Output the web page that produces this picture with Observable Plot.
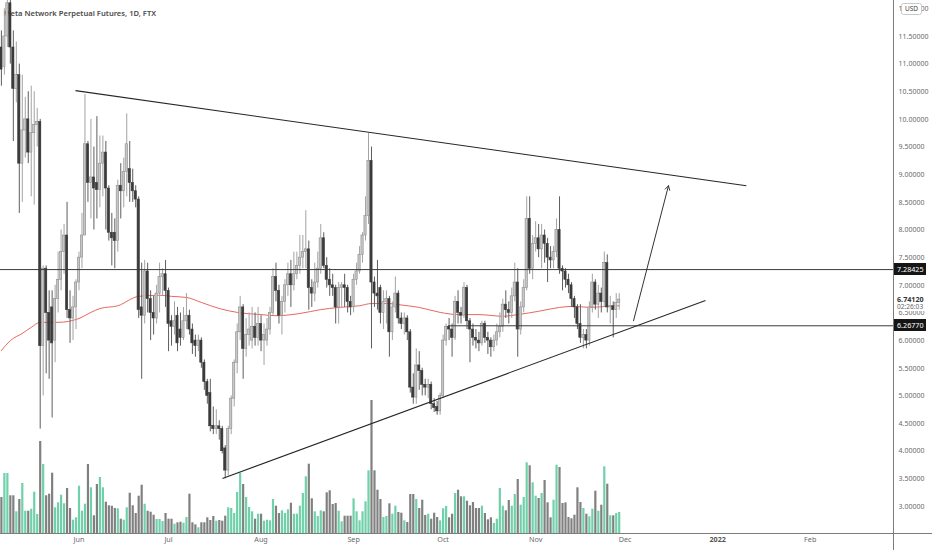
<!DOCTYPE html>
<html>
<head>
<meta charset="utf-8">
<script src="https://cdn.jsdelivr.net/npm/d3@7"></script>
<script src="https://cdn.jsdelivr.net/npm/@observablehq/plot@0.6"></script>
<style>
  body { margin: 0; background: #fff; overflow: hidden; }
  #chart { position: relative; width: 932px; height: 550px; overflow: hidden; font-family: "Noto Sans", sans-serif; }
  #chart svg { position: absolute; left: 0; top: 0; }
  .tag { position: absolute; font-size: 7.2px; white-space: nowrap; }
</style>
</head>
<body>
<div id="chart"></div>
<script>
// daily candles, first bar 2021-05-06
const firstBar = "2021-05-06";
const opens = [11.3,10.95,11.5,12.1,11.3,10.55,10.8,9.2,9.8,10.0,9.4,9.75,9.9,9.95,5.9,7.3,6.5,6.6,6.0,6.75,7.1,7.6,7.9,6.55,6.4,6.6,7.05,7.5,7.9,9.55,
  8.85,8.95,8.85,8.72,9.2,9.4,8.75,7.95,7.95,7.8,8.8,8.7,9.05,9.1,8.85,8.7,8.55,6.6,6.45,7.25,6.75,6.5,6.4,6.85,7.15,7.2,6.9,6.35,6.25,6.45,
  6.2,6.05,6.35,6.45,6.2,6.0,5.9,6.0,5.6,5.25,5.05,4.46,4.4,4.45,4.4,4.05,3.65,4.4,4.95,5.6,6.15,6.6,5.85,6.1,6.0,6.25,6.05,6.3,6.0,6.0,
  6.2,6.5,7.15,6.9,6.45,6.7,7.0,7.2,7.0,7.2,7.35,7.5,7.6,7.65,6.95,6.85,7.05,7.3,7.85,7.35,7.1,7.0,6.95,6.6,6.95,7.0,6.95,6.7,6.6,7.1,
  7.25,7.55,7.9,8.25,9.25,7.05,6.85,6.95,6.5,6.7,6.75,6.15,6.6,6.85,6.4,6.3,6.4,6.15,5.15,4.97,5.55,5.45,5.2,5.15,5.2,4.85,4.8,4.72,5.0,6.0,
  6.25,6.2,6.05,6.7,6.5,6.45,6.95,6.35,6.2,6.05,6.0,5.95,6.3,6.05,6.0,5.88,6.0,6.15,6.25,6.65,6.55,6.5,6.8,7.05,6.2,6.6,6.95,8.2,7.3,7.75,
  7.85,7.65,7.9,7.75,7.5,7.45,7.6,8.0,7.3,7.25,7.1,7.0,6.75,6.6,6.3,6.05,6.1,6.0,6.6,7.05,6.65,6.85,6.7,7.4,6.6,6.62,6.55,6.68];
const highs = [11.6,12.0,12.4,12.4,11.6,11.4,11.0,10.8,10.4,10.5,10.6,10.5,10.2,10.0,7.35,7.35,6.9,6.9,7.0,7.6,8.0,8.1,8.5,6.9,6.8,7.1,7.6,8.3,10.45,9.6,
  10.0,9.5,10.05,9.7,9.7,9.6,8.8,8.3,8.2,8.9,9.2,9.3,10.1,9.6,9.1,8.8,8.6,7.4,7.45,7.4,6.9,6.8,7.0,7.4,7.3,7.45,6.95,6.45,6.7,6.6,
  6.5,6.6,6.85,6.55,6.3,6.1,6.1,6.05,5.65,5.3,5.3,4.8,4.75,4.55,4.45,4.1,4.45,5.0,5.65,6.3,6.8,6.65,6.4,6.5,6.6,6.5,6.6,6.45,6.3,6.4,
  6.6,7.3,7.4,7.0,6.8,7.1,7.4,7.45,7.6,7.6,7.9,7.9,8.35,7.8,7.1,7.4,7.6,8.1,7.95,7.5,7.3,7.2,7.0,7.05,7.05,7.2,7.0,6.8,7.2,7.4,
  7.7,7.95,8.6,9.75,9.5,7.15,7.45,7.0,6.9,6.9,6.8,6.7,7.15,6.9,6.5,6.5,6.45,6.2,5.4,5.85,5.8,5.5,5.3,5.3,5.25,4.95,4.9,5.05,6.1,6.3,
  6.4,6.3,6.8,6.9,6.6,7.05,7.0,6.4,6.3,6.2,6.15,6.35,6.35,6.15,6.05,6.1,6.3,6.5,6.75,6.9,6.7,6.95,7.4,7.3,6.7,7.1,8.6,8.6,7.9,8.15,
  8.1,8.1,8.0,7.85,7.7,7.7,8.2,8.6,7.35,7.3,7.2,7.05,6.8,6.65,6.65,6.2,6.2,6.7,7.2,7.1,7.0,6.95,7.6,7.55,6.8,6.7,6.85,6.85];
const lows = [10.6,10.8,11.3,11.0,9.6,10.3,8.3,8.5,9.3,9.2,8.6,8.45,9.5,4.4,5.0,5.4,5.3,4.6,5.6,6.5,6.9,7.2,6.4,5.95,6.0,6.2,6.9,7.3,7.9,8.5,
  8.2,8.0,8.2,8.4,8.6,8.0,7.8,7.35,7.3,7.6,8.2,8.4,8.6,8.5,8.5,8.4,6.4,5.3,6.3,6.5,6.0,6.1,6.3,6.5,6.8,6.6,5.8,5.9,6.1,5.8,
  5.9,6.0,6.2,6.1,5.75,5.7,5.8,5.5,5.1,4.85,4.35,4.3,4.3,4.2,3.95,3.5,3.55,4.3,4.8,5.4,6.0,5.3,5.7,5.9,5.85,5.9,5.9,5.8,5.55,5.9,
  6.1,6.45,6.7,6.3,6.1,6.5,6.8,6.6,6.9,7.1,7.2,7.3,7.3,6.55,6.6,6.7,6.95,7.2,7.3,6.95,6.8,6.8,6.3,6.3,6.6,6.6,6.5,6.45,6.5,7.0,
  7.2,7.4,7.8,8.1,5.85,6.6,6.55,6.3,6.2,6.3,5.7,6.0,6.5,6.3,6.2,6.1,6.0,5.05,4.85,4.85,5.1,5.0,5.0,4.95,4.75,4.7,4.65,4.65,4.95,5.9,
  6.0,5.7,6.0,6.3,6.3,6.4,6.2,5.6,5.9,5.85,5.8,5.9,5.95,5.75,5.7,5.8,5.9,6.05,6.15,6.4,6.3,6.4,6.7,5.7,6.1,6.5,6.9,7.2,7.1,7.6,
  7.5,7.3,7.4,7.05,7.3,7.3,7.5,7.2,6.9,6.95,6.85,6.6,6.4,6.2,5.95,5.85,5.85,5.9,6.5,6.55,6.4,6.5,6.6,6.5,6.3,6.05,6.4,6.55];
const closes = [10.9,11.5,12.1,11.3,10.55,10.8,9.2,9.8,10.0,9.4,9.75,9.9,9.95,5.9,7.3,6.5,6.0,5.95,6.75,7.1,7.6,7.9,6.55,6.4,6.6,7.05,7.5,7.9,9.55,8.85,
  8.95,8.75,8.72,9.2,9.4,8.75,7.95,7.85,7.8,8.8,8.7,9.05,9.55,8.85,8.7,8.55,6.55,6.45,7.25,6.75,6.5,6.4,6.85,7.15,7.2,6.9,6.3,6.25,6.35,5.95,
  6.05,6.35,6.45,6.2,5.95,5.9,6.0,5.6,5.25,5.0,4.45,4.4,4.45,4.4,4.0,3.65,4.4,4.95,5.6,6.15,6.6,5.85,6.1,6.2,6.25,6.05,6.3,6.0,6.1,6.2,
  6.5,7.15,6.9,6.45,6.7,7.0,7.2,7.0,7.2,7.35,7.5,7.6,7.65,6.95,6.85,7.05,7.3,7.85,7.35,7.1,7.0,6.95,6.6,6.95,7.0,6.95,6.7,6.6,7.1,7.25,
  7.55,7.9,8.25,9.25,7.05,6.85,6.8,6.5,6.7,6.75,6.15,6.6,6.85,6.4,6.3,6.4,6.15,5.15,4.97,5.55,5.45,5.2,5.15,5.2,4.85,4.78,4.72,5.0,6.0,6.25,
  6.2,6.05,6.7,6.5,6.45,6.95,6.35,6.2,6.05,6.0,5.95,6.3,6.05,6.0,5.88,6.0,6.15,6.25,6.65,6.55,6.5,6.8,7.05,6.2,6.6,6.95,8.2,7.3,7.75,7.85,
  7.65,7.9,7.75,7.5,7.45,7.6,8.0,7.3,7.25,7.1,7.0,6.75,6.6,6.3,6.05,6.1,6.0,6.6,7.05,6.65,6.85,6.7,7.4,6.6,6.62,6.55,6.68,6.7412];
// volume, relative units
const volumes = [36,60,60,37.7,37.7,21.7,34,50,22.3,22.3,24.3,41.3,19,92,69,37.7,39.3,60.3,25.7,30.7,38.3,29.7,45,25,13.3,15.7,47.3,22.3,29.3,69,
  45.7,17.7,49,56,45.7,31.3,27.7,27.3,25,24.7,14.3,13.3,25.7,40.3,27.7,20,37.3,48.3,29.3,22.3,21.3,18.3,14,14,12,20,14.3,14.3,9.3,10.7,
  11.3,10.3,16,39.3,10.7,8.7,5.7,10.7,10.7,15.7,13,17,12.3,13,12.3,17.3,25.7,25,20,41,60.3,49,36,26,21.7,14.3,19.3,19.3,12.3,13.3,
  12.7,34,27.3,20,22.7,20,23.7,30.3,19.3,19.3,27.3,40,56.7,69.3,34.7,21.7,17,22.7,21.7,40.7,42.7,29,30,22.3,11.7,17.3,17.3,17.3,34.7,21.7,
  12.7,21.7,31.7,62.7,133,62.7,43.3,34,16,17,29.7,19.3,27.3,21,20.3,12.7,11,39,39,34,25,33.3,18,19.3,14.3,20.3,16,12.7,24.7,27,
  15.7,19.3,40,43.3,36.7,36.7,32.3,27.7,31,25,25,27.3,20,13.7,15.7,10,14.3,45,27.3,22.7,33,27.3,39,54,28.3,36,70.7,67.7,50.7,37.3,
  35,40,53,30.7,15.7,33.3,68.3,66,30,30.7,16,14.7,18.3,45.7,31,25,19.3,16.7,24.3,42.3,22.3,28.3,66.7,49.3,17.7,17.7,20,21];

// red moving average, read at bar offsets
const maBar = [0,3,7,10,13,19,26,30,33,39,46,53,57,62,67,73,79,87,92,100,107,113,120,124,130,133,140,147,153,160,168,173,180,187,192,197,203,207];
const maValue = [5.82,6.0,6.13,6.24,6.33,6.33,6.40,6.51,6.58,6.63,6.80,6.82,6.80,6.78,6.69,6.58,6.51,6.47,6.45,6.49,6.56,6.60,6.63,6.67,6.67,6.65,6.60,6.51,6.47,6.47,6.44,6.47,6.53,6.60,6.62,6.60,6.62,6.63];

// drawings
const trendFrom = ["2021-05-30T20:00Z", "2021-07-19T01:40Z"];
const trendFromPrice = [10.52, 3.506];
const trendTo = ["2022-01-10T14:24Z", "2021-12-27T21:36Z"];
const trendToPrice = [8.80, 6.725];
const levelPrice = [7.28425, 6.2677];
const levelFrom = ["2021-05-05T16:48Z", "2021-10-02T19:12Z"];
const arrowFrom = ["2021-12-03T19:12Z"], arrowFromPrice = [6.36];
const arrowTo = ["2021-12-15T12:00Z"], arrowToPrice = [8.80];

const priceTicks = [3, 3.5, 4, 4.5, 5, 5.5, 6, 6.5, 7, 7.5, 8, 8.5, 9, 9.5, 10, 10.5, 11, 11.5, 12];
const monthTicks = ["2021-06-01","2021-07-01","2021-08-01","2021-09-01","2021-10-01","2021-11-01","2021-12-01","2022-01-01","2022-02-01"];
const monthLabels = ["Jun","Jul","Aug","Sep","Oct","Nov","Dec","2022","Feb"];
const lastPrice = 6.7412, countdown = "02:26:03";
const title = "Meta Network Perpetual Futures, 1D, FTX";

const viewStart = new Date("2021-05-05T16:48Z"), viewEnd = new Date("2022-02-28T21:36Z");
const yDomain = [2.5118, 12.15];
const beyond = d3.utcDay.offset(viewEnd, 14);

const start = new Date(firstBar);
const n = Math.min(opens.length, highs.length, lows.length, closes.length, volumes.length);
const bars = d3.range(n).map(i => ({
  date: d3.utcDay.offset(start, i), open: opens[i], high: highs[i], low: lows[i], close: closes[i], vol: volumes[i]
}));
const up = d => d.close >= d.open;
const ma = maBar.map((b, i) => ({date: d3.utcDay.offset(start, b), value: maValue[i]}));
const trends = trendFrom.map((f, i) => ({x1: new Date(f), y1: trendFromPrice[i], x2: new Date(trendTo[i]), y2: trendToPrice[i]}));
const levels = levelPrice.map((p, i) => ({y: p, x1: new Date(levelFrom[i]), x2: viewEnd}));
const arrows = arrowFrom.map((f, i) => ({x1: new Date(f), y1: arrowFromPrice[i], x2: new Date(arrowTo[i]), y2: arrowToPrice[i]}));
const months = monthTicks.map((m, i) => ({date: new Date(m), label: monthLabels[i]}));

const font = "Noto Sans, sans-serif";
const common = {
  width: 932, height: 550, marginLeft: 0, marginRight: 39, marginBottom: 17,
  x: {type: "utc", domain: [viewStart, viewEnd], axis: null},
  color: {type: "identity"},
  style: {background: "transparent", fontFamily: font, overflow: "visible"}
};

const volumePlot = Plot.plot({
  ...common,
  marginTop: 393,
  y: {domain: [0, 140], axis: null},
  marks: [
    Plot.ruleX(bars, {x: "date", y1: 0, y2: "vol", stroke: d => up(d) ? "#6fd0a9" : "#808080", strokeWidth: 2.2})
  ]
});

const pricePlot = Plot.plot({
  ...common,
  marginTop: 0,
  y: {domain: yDomain, axis: null},
  marks: [
    Plot.text([title], {frameAnchor: "top-left", dx: 3, dy: 10, text: d => d, textAnchor: "start",
      fontSize: 7.6, fontWeight: 600, fill: "#4b4b4b"}),
    Plot.line(ma, {x: "date", y: "value", stroke: "#e8675f", strokeWidth: 1, curve: "monotone-x"}),
    Plot.ruleX(bars, {x: "date", y1: "low", y2: "high", stroke: d => up(d) ? "#a3a3a3" : "#5e5e5e", strokeWidth: 1}),
    Plot.rect(bars, {
      x1: d => d3.utcHour.offset(d.date, -9), x2: d => d3.utcHour.offset(d.date, 9),
      y1: "open", y2: "close",
      fill: d => up(d) ? "#c6c6c6" : "#3b3b3b", stroke: d => up(d) ? "#8e8e8e" : "#3b3b3b", strokeWidth: 0.6
    }),
    Plot.ruleY(levels, {y: "y", x1: "x1", x2: "x2", stroke: "#3a3a3a", strokeWidth: 1}),
    Plot.link(trends, {x1: "x1", y1: "y1", x2: "x2", y2: "y2", stroke: "#262626", strokeWidth: 1.1}),
    Plot.arrow(arrows, {x1: "x1", y1: "y1", x2: "x2", y2: "y2", stroke: "#333", strokeWidth: 1, headLength: 7, bend: 0}),
    // frame lines
    Plot.ruleY([yDomain[0]], {x1: viewStart, x2: beyond, stroke: "#7c7c7c", strokeWidth: 1}),
    Plot.ruleX([viewEnd], {x: d => d, y1: yDomain[1], y2: yDomain[0] - 1, stroke: "#7c7c7c", strokeWidth: 1}),
    // axis labels
    Plot.text(priceTicks, {y: d => d, frameAnchor: "right", dx: 5, textAnchor: "start",
      text: d => d.toFixed(5), fontSize: 7, fill: "#6a6a6a"}),
    Plot.text(months.filter(d => d.label !== "2022"), {x: "date", frameAnchor: "bottom", dy: 8, text: "label", fontSize: 7.2, fill: "#6a6a6a"}),
    Plot.text(months.filter(d => d.label === "2022"), {x: "date", frameAnchor: "bottom", dy: 8, text: "label", fontSize: 7.2, fontWeight: 700, fill: "#555"})
  ]
});

const chart = document.getElementById("chart");
chart.appendChild(volumePlot);
chart.appendChild(pricePlot);

// price tags on the right axis, placed with the plot's own scales
const ys = pricePlot.scale("y");
const yPx = d3.scaleLinear(ys.domain, ys.range);
const xs = pricePlot.scale("x");
const xRight = d3.scaleUtc(xs.domain, xs.range)(viewEnd);

function tag(text, top, css) {
  const el = document.createElement("div");
  el.className = "tag";
  el.textContent = text;
  el.style.left = (xRight + 1) + "px";
  el.style.top = top + "px";
  Object.assign(el.style, css);
  chart.appendChild(el);
  return el;
}

const yl = yPx(lastPrice);
tag("", yl - 6, {width: "38px", height: "17.5px", background: "#fff"});
tag(lastPrice.toFixed(5), yl - 4, {paddingLeft: "3px", lineHeight: "8px", fontWeight: "700", color: "#333"});
tag(countdown, yl + 4, {paddingLeft: "3px", lineHeight: "7.5px", fontSize: "6.6px", color: "#6a6a6a"});

for (const p of levelPrice) {
  tag(p.toFixed(5), yPx(p) - 6, {width: "29px", height: "12px", lineHeight: "12px", paddingLeft: "3px",
    background: "#151515", color: "#fff"});
}

// currency badge
tag("USD", 3, {left: (xRight + 8) + "px", width: "19px", height: "10px", lineHeight: "10px", textAlign: "center",
  fontSize: "6.5px", color: "#444", background: "#fff", border: "0.7px solid #c8c8c8", borderRadius: "2.5px"});
</script>
</body>
</html>
